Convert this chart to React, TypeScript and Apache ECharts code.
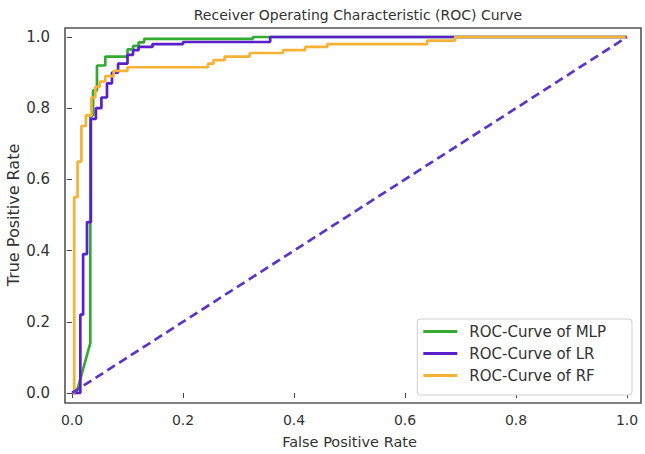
import React, { useEffect, useRef } from "react";
import * as echarts from "echarts";

// ROC points: [false positive rate, true positive rate]
const mlpRoc: number[][] = [
  [0, 0], [0.008, 0], [0.033, 0.14], [0.033, 0.78], [0.038, 0.78], [0.038, 0.85],
  [0.045, 0.85], [0.045, 0.92], [0.06, 0.92], [0.06, 0.945], [0.1, 0.945], [0.1, 0.965],
  [0.11, 0.965], [0.11, 0.975], [0.12, 0.975], [0.12, 0.985], [0.13, 0.985], [0.13, 0.995],
  [0.326, 0.995], [0.326, 1.0], [1, 1],
];
const lrRoc: number[][] = [
  [0, 0], [0.015, 0], [0.015, 0.22], [0.02, 0.22], [0.02, 0.39], [0.027, 0.39], [0.027, 0.48],
  [0.034, 0.48], [0.034, 0.77], [0.043, 0.77], [0.043, 0.8], [0.053, 0.8], [0.053, 0.83],
  [0.063, 0.83], [0.063, 0.87], [0.072, 0.87], [0.072, 0.9], [0.083, 0.9], [0.083, 0.925],
  [0.1, 0.925], [0.1, 0.95], [0.11, 0.95], [0.11, 0.963], [0.12, 0.963], [0.12, 0.972],
  [0.145, 0.972], [0.145, 0.98], [0.2, 0.98], [0.2, 0.986], [0.357, 0.986], [0.357, 1.0], [1, 1],
];
const rfRoc: number[][] = [
  [0, 0], [0.004, 0], [0.004, 0.55], [0.01, 0.55], [0.01, 0.65], [0.017, 0.65], [0.017, 0.75],
  [0.025, 0.75], [0.025, 0.78], [0.035, 0.78], [0.035, 0.83], [0.042, 0.83], [0.042, 0.86],
  [0.05, 0.86], [0.05, 0.875], [0.06, 0.875], [0.06, 0.89], [0.075, 0.89], [0.075, 0.905],
  [0.1, 0.905], [0.1, 0.915], [0.245, 0.915], [0.245, 0.925], [0.255, 0.925], [0.255, 0.935],
  [0.275, 0.935], [0.275, 0.945], [0.32, 0.945], [0.32, 0.955], [0.38, 0.955], [0.38, 0.963],
  [0.42, 0.963], [0.42, 0.972], [0.46, 0.972], [0.46, 0.98], [0.64, 0.98], [0.64, 0.99],
  [0.69, 0.99], [0.69, 1.0], [1, 1],
];
const chanceLine: number[][] = [[0, 0], [1, 1]];

const seriesNames = ["ROC-Curve of MLP", "ROC-Curve of LR", "ROC-Curve of RF"];
const seriesColors = ["#33ab33", "#5a1fcc", "#f5b235"];
const axisTicks = [0, 0.2, 0.4, 0.6, 0.8, 1.0];

const FONT = "DejaVu Sans";
const TEXT = "#333333";

export default function App() {
  const ref = useRef<HTMLDivElement>(null);
  useEffect(() => {
    if (!ref.current) return;
    const chart = echarts.init(ref.current, undefined, { renderer: "svg" });
    const lineSeries = (name: string, data: number[][], color: string) => ({
      name,
      type: "line",
      data,
      symbol: "none",
      clip: false,
      lineStyle: { color, width: 2.7 },
      itemStyle: { color },
    });
    chart.setOption({
      animation: false,
      backgroundColor: "#ffffff",
      title: {
        text: "Receiver Operating Characteristic (ROC) Curve",
        left: 353,
        textAlign: "center",
        top: 3,
        textStyle: { fontFamily: FONT, fontSize: 14, fontWeight: "normal", color: TEXT },
      },
      grid: { left: 72, right: 18, top: 37, bottom: 61, outerBoundsMode: "none", containLabel: false },
      legend: {
        data: seriesNames,
        orient: "vertical",
        right: 13,
        bottom: 59,
        icon: "rect",
        itemWidth: 34,
        itemHeight: 3,
        itemGap: 7,
        padding: [5, 26, 12, 6],
        borderColor: "#d0d0d0",
        borderWidth: 1,
        borderRadius: 3,
        backgroundColor: "#ffffff",
        textStyle: { fontFamily: FONT, fontSize: 15, color: TEXT, padding: [0, 0, 0, 7] },
      },
      graphic: [
        {
          type: "rect",
          shape: { x: 65, y: 28, width: 576, height: 375 },
          style: { fill: "none", stroke: "#555555", lineWidth: 1.6 },
          z: 10,
        },
      ],
      xAxis: {
        type: "value",
        min: 0,
        max: 1,
        interval: 0.2,
        offset: 10,
        name: "False Positive Rate",
        nameLocation: "middle",
        nameGap: 31,
        nameMoveOverlap: false,
        nameTextStyle: { fontFamily: FONT, fontSize: 14.5, color: TEXT },
        axisLine: { show: false },
        axisTick: { show: true, length: 5, lineStyle: { color: "#444" } },
        splitLine: { show: false },
        axisLabel: {
          fontFamily: FONT,
          fontSize: 14,
          color: TEXT,
          margin: 10,
          formatter: (v: number) => v.toFixed(1),
          customValues: axisTicks,
        },
      },
      yAxis: {
        type: "value",
        min: 0,
        max: 1,
        interval: 0.2,
        offset: 7,
        name: "True Positive Rate",
        nameLocation: "middle",
        nameGap: 44,
        nameMoveOverlap: false,
        nameTextStyle: { fontFamily: FONT, fontSize: 16, color: TEXT },
        axisLine: { show: false },
        axisTick: { show: true, length: 5, lineStyle: { color: "#444" } },
        splitLine: { show: false },
        axisLabel: {
          fontFamily: FONT,
          fontSize: 15,
          color: TEXT,
          margin: 15,
          formatter: (v: number) => v.toFixed(1),
        },
      },
      series: [
        lineSeries(seriesNames[0], mlpRoc, seriesColors[0]),
        lineSeries(seriesNames[1], lrRoc, seriesColors[1]),
        lineSeries(seriesNames[2], rfRoc, seriesColors[2]),
        {
          name: "chance",
          type: "line",
          data: chanceLine,
          symbol: "none",
          clip: false,
          lineStyle: { color: "#5b34c8", width: 2.7, type: [9, 5] },
        },
      ],
    });
    return () => chart.dispose();
  }, []);
  return <div ref={ref} style={{ width: 645, height: 454, position: "absolute", left: 0, top: 0 }} />;
}
